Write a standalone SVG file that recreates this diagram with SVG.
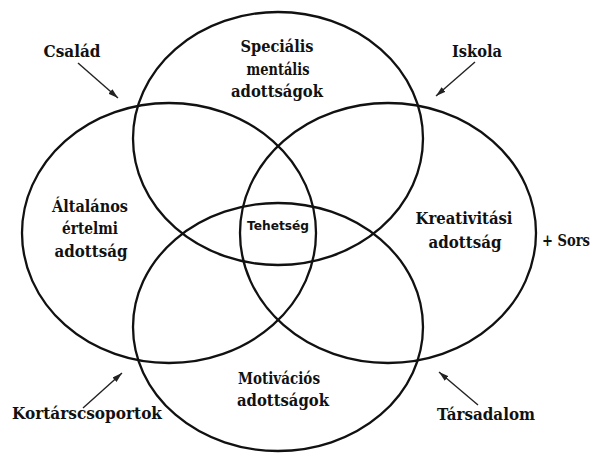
<svg xmlns="http://www.w3.org/2000/svg" width="598" height="453" viewBox="0 0 598 453">
<style>
.c{fill:none;stroke:#111;stroke-width:2.3}
.t{font-family:'DejaVu Serif Condensed','DejaVu Serif',serif;font-stretch:condensed;font-weight:bold;font-size:17px;fill:#111;text-anchor:middle}
.s{font-family:'DejaVu Sans','Liberation Sans',sans-serif;font-weight:bold;font-size:12.5px;fill:#111;text-anchor:middle}
.a{stroke:#222;stroke-width:1.4;fill:none;marker-end:url(#ah)}
</style>
<defs>
<marker id="ah" viewBox="0 0 10 6" refX="10" refY="3" markerWidth="10" markerHeight="6" markerUnits="userSpaceOnUse" orient="auto">
<path d="M0,0 L10,3 L0,6 z" fill="#222"/>
</marker>
</defs>
<rect width="598" height="453" fill="#fff"/>
<g id="special">
<ellipse class="c" cx="278" cy="138.5" rx="145" ry="126.5"/>
<text class="t" x="277" y="52" textLength="73" lengthAdjust="spacingAndGlyphs">Speciális</text>
<text class="t" x="278" y="75" textLength="63" lengthAdjust="spacingAndGlyphs">mentális</text>
<text class="t" x="277" y="97" textLength="92" lengthAdjust="spacingAndGlyphs">adottságok</text>
</g>
<g id="altalanos">
<ellipse class="c" cx="169" cy="233" rx="147" ry="130"/>
<text class="t" x="90" y="212" textLength="76" lengthAdjust="spacingAndGlyphs">Általános</text>
<text class="t" x="90" y="234" textLength="56" lengthAdjust="spacingAndGlyphs">értelmi</text>
<text class="t" x="91" y="257" textLength="73" lengthAdjust="spacingAndGlyphs">adottság</text>
</g>
<g id="kreativitas">
<ellipse class="c" cx="388" cy="233" rx="148" ry="130"/>
<text class="t" x="464" y="224" textLength="97" lengthAdjust="spacingAndGlyphs">Kreativitási</text>
<text class="t" x="465" y="248" textLength="73" lengthAdjust="spacingAndGlyphs">adottság</text>
</g>
<g id="motivacio">
<ellipse class="c" cx="278" cy="327" rx="145" ry="124"/>
<text class="t" x="279" y="384" textLength="82" lengthAdjust="spacingAndGlyphs">Motivációs</text>
<text class="t" x="283" y="406" textLength="92" lengthAdjust="spacingAndGlyphs">adottságok</text>
</g>
<g id="tehetseg">
<text class="s" x="278" y="230" textLength="62" lengthAdjust="spacingAndGlyphs">Tehetség</text>
</g>
<g id="sors"><text class="t" x="566" y="246" textLength="48" lengthAdjust="spacingAndGlyphs">+ Sors</text></g>
<g id="csalad"><text class="t" x="72" y="57" textLength="57" lengthAdjust="spacingAndGlyphs">Család</text></g>
<g id="iskola"><text class="t" x="477" y="57" textLength="50" lengthAdjust="spacingAndGlyphs">Iskola</text></g>
<g id="kortars"><text class="t" x="87" y="419" textLength="150" lengthAdjust="spacingAndGlyphs">Kortárscsoportok</text></g>
<g id="tarsadalom"><text class="t" x="486" y="420" textLength="98" lengthAdjust="spacingAndGlyphs">Társadalom</text></g>
<g id="connectors">
<line class="a" x1="78" y1="63" x2="118" y2="98"/>
<line class="a" x1="475" y1="62" x2="436" y2="96"/>
<line class="a" x1="83" y1="408" x2="122" y2="373"/>
<line class="a" x1="478" y1="405" x2="439" y2="372"/>
</g>
</svg>
